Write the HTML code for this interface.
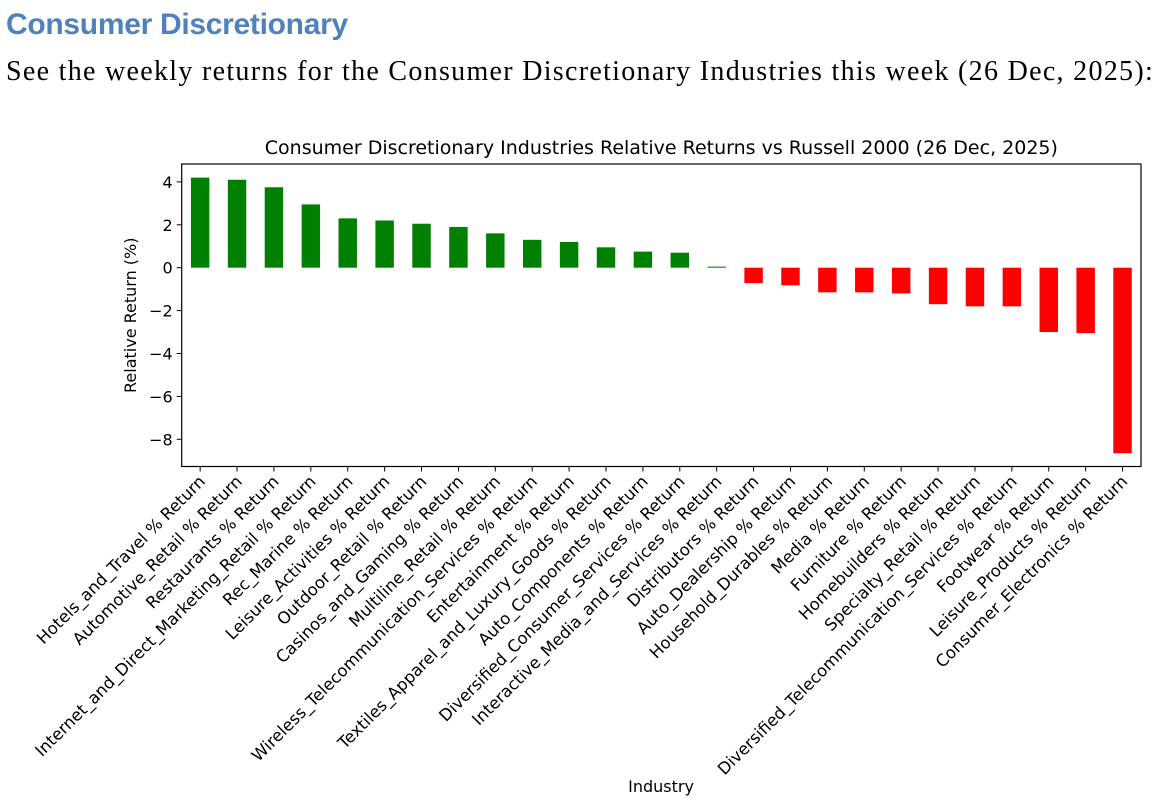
<!DOCTYPE html>
<html><head><meta charset="utf-8"><style>
body{margin:0;background:#fff;width:1160px;height:808px;overflow:hidden;position:relative}
h1{position:absolute;left:6px;top:8px;margin:0;font:bold 30px "Liberation Sans",sans-serif;color:#4f81bd;letter-spacing:-0.3px}
p{position:absolute;left:6px;top:56px;margin:0;font:28px "Liberation Serif",serif;color:#000;white-space:nowrap;letter-spacing:1.3px}
svg{position:absolute;left:0;top:0}
text{font-family:"DejaVu Sans","Liberation Sans",sans-serif;fill:#000}
</style></head><body>
<h1>Consumer Discretionary</h1>
<p>See the weekly returns for the Consumer Discretionary Industries this week (26 Dec, 2025):</p>
<svg id="chart" width="1160" height="808"></svg>
<script>
const categories=["Hotels_and_Travel","Automotive_Retail","Restaurants","Internet_and_Direct_Marketing_Retail","Rec_Marine","Leisure_Activities","Outdoor_Retail","Casinos_and_Gaming","Multiline_Retail","Wireless_Telecommunication_Services","Entertainment","Textiles_Apparel_and_Luxury_Goods","Auto_Components","Diversified_Consumer_Services","Interactive_Media_and_Services","Distributors","Auto_Dealership","Household_Durables","Media","Furniture","Homebuilders","Specialty_Retail","Diversified_Telecommunication_Services","Footwear","Leisure_Products","Consumer_Electronics"];
const values=[4.2,4.1,3.75,2.95,2.3,2.2,2.05,1.9,1.6,1.3,1.2,0.95,0.75,0.7,0.05,-0.72,-0.82,-1.15,-1.15,-1.2,-1.7,-1.8,-1.8,-3.0,-3.05,-8.65];
const yTicks=[4,2,0,-2,-4,-6,-8];
const NS="http://www.w3.org/2000/svg";
const svg=document.getElementById('chart');
const L=181.7,R=1141,T=164,B=466.5;
const x=i=>L+(i+0.5)*(R-L)/categories.length;
const y=v=>267.7-v*21.45;
function mk(tag,attrs,parent){const e=document.createElementNS(NS,tag);for(const k in attrs)e.setAttribute(k,attrs[k]);(parent||svg).appendChild(e);return e;}
const bw=(R-L)/categories.length*0.5;
values.forEach((v,i)=>{
  const r=mk('rect',{x:x(i)-bw/2,y:Math.min(y(v),y(0)),width:bw,height:Math.abs(y(v)-y(0)),fill:v>=0?'#008000':'#ff0000'});
  
  
  mk('line',{x1:x(i),x2:x(i),y1:B,y2:B+5,stroke:'#000','stroke-width':1});
  const t=mk('text',{x:0,y:0,'font-size':'16.5','text-anchor':'end',transform:`translate(${x(i)+6},${B+16}) rotate(-45)`});
  t.textContent=categories[i]+' % Return';
  
  
});
yTicks.forEach(v=>{
  mk('line',{x1:L-5,x2:L,y1:y(v),y2:y(v),stroke:'#000','stroke-width':1});
  const t=mk('text',{x:L-9,y:y(v)+6,'font-size':'16','text-anchor':'end'});
  t.textContent=v<0?'\u2212'+Math.abs(v):String(v);
  
  
});
const f=mk('rect',{x:L,y:T,width:R-L,height:B-T,fill:'none',stroke:'#000','stroke-width':1.2});


const ti=mk('text',{x:(L+R)/2,y:154,'font-size':'19','text-anchor':'middle'});
ti.textContent='Consumer Discretionary Industries Relative Returns vs Russell 2000 (26 Dec, 2025)';


const yl=mk('text',{x:0,y:0,'font-size':'16','text-anchor':'middle',transform:`translate(136,${(T+B)/2}) rotate(-90)`});
yl.textContent='Relative Return (%)';


const xl=mk('text',{x:661,y:792,'font-size':'16','text-anchor':'middle'});
xl.textContent='Industry';


</script>
</body></html>
